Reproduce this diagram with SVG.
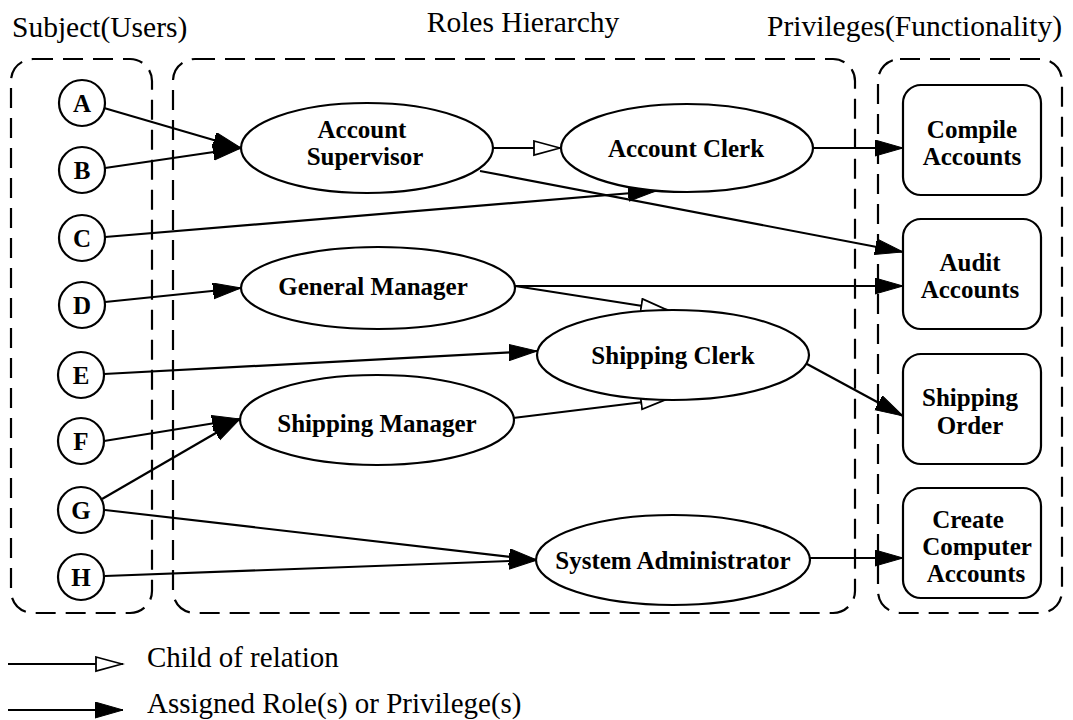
<svg xmlns="http://www.w3.org/2000/svg" width="1073" height="720" viewBox="0 0 1073 720">
<defs>
<marker id="fill" markerUnits="userSpaceOnUse" markerWidth="30" markerHeight="18" refX="28" refY="8" orient="auto" viewBox="0 0 30 18">
<path d="M0,0 L28,8 L0,16 z" fill="#000" stroke="#000" stroke-width="1"/>
</marker>
<marker id="open" markerUnits="userSpaceOnUse" markerWidth="30" markerHeight="18" refX="28" refY="8" orient="auto" viewBox="0 0 30 18">
<path d="M1,1 L27,8 L1,15 z" fill="#fff" stroke="#000" stroke-width="1.8"/>
</marker>
</defs>
<style>
.title{font-family:"Liberation Serif",serif;font-size:29.5px;fill:#000}
.leg{font-family:"Liberation Serif",serif;font-size:29px;fill:#000}
.lbl{font-family:"Liberation Serif",serif;font-size:25px;font-weight:bold;fill:#000;text-anchor:middle}
.grp{fill:none;stroke:#000;stroke-width:2.2;stroke-dasharray:20 10}
.node{fill:#fff;stroke:#000;stroke-width:2.2}
.a{fill:none;stroke:#000;stroke-width:2.2;marker-end:url(#fill)}
.c{fill:none;stroke:#000;stroke-width:2.2;marker-end:url(#open)}
</style>
<rect width="1073" height="720" fill="#fff"/>
<g id="titles">
<text class="title" x="12" y="37">Subject(Users)</text>
<text class="title" x="523" y="32" text-anchor="middle">Roles Hierarchy</text>
<text class="title" x="1062" y="36" text-anchor="end">Privileges(Functionality)</text>
</g>
<g id="groups">
<rect class="grp" x="11" y="59" width="141" height="554" rx="22"/>
<rect class="grp" x="173" y="59" width="682" height="554" rx="22"/>
<rect class="grp" x="878" y="59" width="184" height="554" rx="22"/>
</g>
<g id="connectors">
<line class="a" x1="104" y1="108" x2="241" y2="148"/>
<line class="a" x1="105" y1="168" x2="241" y2="148"/>
<line class="a" x1="105" y1="237" x2="656" y2="191"/>
<line class="a" x1="105" y1="302" x2="241" y2="288"/>
<line class="a" x1="104" y1="374" x2="537" y2="351"/>
<line class="a" x1="104" y1="441" x2="240" y2="419"/>
<line class="a" x1="102" y1="499" x2="240" y2="419"/>
<line class="a" x1="105" y1="510" x2="537" y2="560"/>
<line class="a" x1="105" y1="576" x2="537" y2="560"/>
<line class="c" x1="493" y1="148" x2="561" y2="148"/>
<line class="a" x1="480" y1="171" x2="903" y2="252"/>
<line class="a" x1="812" y1="148" x2="903" y2="148"/>
<line class="a" x1="515" y1="286" x2="903" y2="286"/>
<line class="c" x1="515" y1="286" x2="668" y2="310"/>
<line class="c" x1="513" y1="418" x2="668" y2="399"/>
<line class="a" x1="807" y1="364" x2="903" y2="416"/>
<line class="a" x1="810" y1="558" x2="903" y2="558"/>
</g>
<g id="subjA"><circle class="node" cx="82" cy="103" r="23"/><text class="lbl" x="82" y="112">A</text></g>
<g id="subjB"><circle class="node" cx="82" cy="170" r="23"/><text class="lbl" x="82" y="179">B</text></g>
<g id="subjC"><circle class="node" cx="82" cy="238" r="23"/><text class="lbl" x="82" y="247">C</text></g>
<g id="subjD"><circle class="node" cx="82" cy="305" r="23"/><text class="lbl" x="82" y="314">D</text></g>
<g id="subjE"><circle class="node" cx="81" cy="375" r="23"/><text class="lbl" x="81" y="384">E</text></g>
<g id="subjF"><circle class="node" cx="81" cy="441" r="23"/><text class="lbl" x="81" y="450">F</text></g>
<g id="subjG"><circle class="node" cx="81" cy="510" r="23"/><text class="lbl" x="81" y="519">G</text></g>
<g id="subjH"><circle class="node" cx="81" cy="577" r="23"/><text class="lbl" x="81" y="586">H</text></g>
<g id="roleAccountSupervisor"><ellipse class="node" cx="367" cy="148" rx="126" ry="45"/><text class="lbl" x="362" y="138">Account</text><text class="lbl" x="365" y="165">Supervisor</text></g>
<g id="roleAccountClerk"><ellipse class="node" cx="687" cy="148" rx="126" ry="44"/><text class="lbl" x="686" y="157">Account Clerk</text></g>
<g id="roleGeneralManager"><ellipse class="node" cx="378" cy="288" rx="137" ry="41"/><text class="lbl" x="373" y="295">General Manager</text></g>
<g id="roleShippingClerk"><ellipse class="node" cx="673" cy="355" rx="136" ry="45"/><text class="lbl" x="673" y="364">Shipping Clerk</text></g>
<g id="roleShippingManager"><ellipse class="node" cx="377" cy="420" rx="137" ry="45"/><text class="lbl" x="377" y="432">Shipping Manager</text></g>
<g id="roleSystemAdministrator"><ellipse class="node" cx="673" cy="560" rx="137" ry="45"/><text class="lbl" x="673" y="569">System Administrator</text></g>
<g id="privCompile"><rect class="node" x="903" y="85" width="138" height="110" rx="18"/><text class="lbl" x="972" y="138">Compile</text><text class="lbl" x="972" y="165">Accounts</text></g>
<g id="privAudit"><rect class="node" x="903" y="219" width="138" height="110" rx="18"/><text class="lbl" x="970" y="271">Audit</text><text class="lbl" x="970" y="298">Accounts</text></g>
<g id="privShipping"><rect class="node" x="903" y="354" width="138" height="110" rx="18"/><text class="lbl" x="970" y="406">Shipping</text><text class="lbl" x="970" y="434">Order</text></g>
<g id="privCreate"><rect class="node" x="903" y="488" width="138" height="110" rx="18"/><text class="lbl" x="968" y="528">Create</text><text class="lbl" x="977" y="555">Computer</text><text class="lbl" x="976" y="582">Accounts</text></g>
<g id="legend">
<line class="c" x1="8" y1="664" x2="123" y2="664"/>
<text class="leg" x="147" y="667">Child of relation</text>
<line class="a" x1="8" y1="710" x2="123" y2="710"/>
<text class="leg" x="147" y="713">Assigned Role(s) or Privilege(s)</text>
</g>
</svg>
